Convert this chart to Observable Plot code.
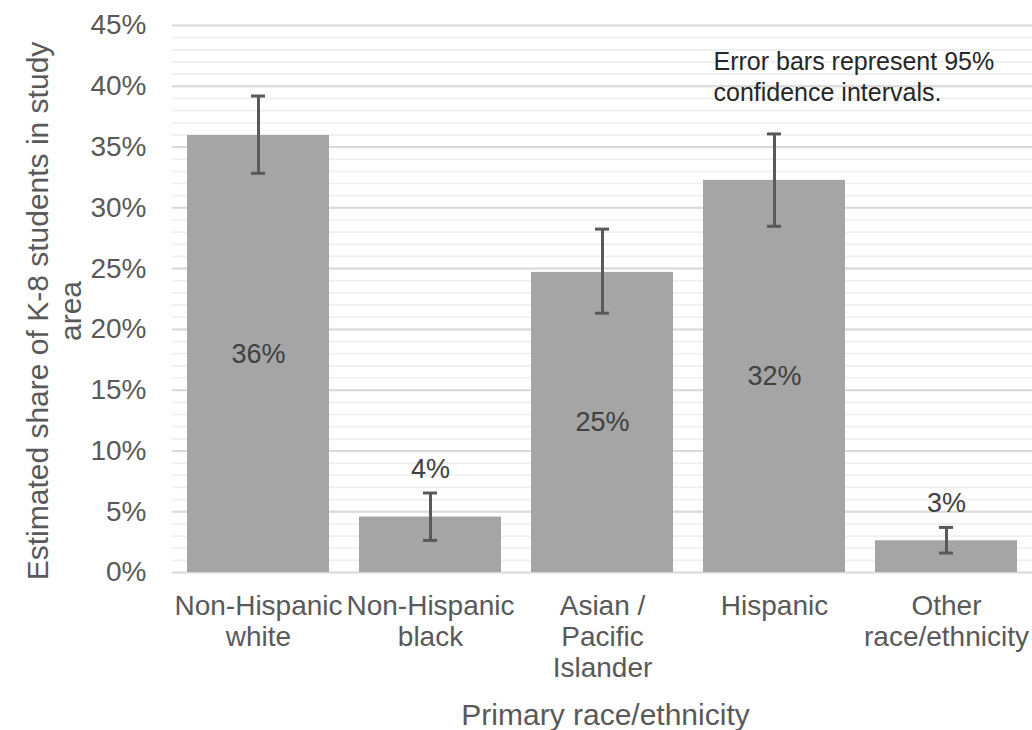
<!DOCTYPE html>
<html><head><meta charset="utf-8">
<script src="https://cdn.jsdelivr.net/npm/d3@7"></script>
<script src="https://cdn.jsdelivr.net/npm/@observablehq/plot@0.6"></script>
<style>body{margin:0;background:#fff}#chart svg{display:block}</style>
</head><body><div id="chart"></div>
<script>
const categories = ["Non-Hispanic white", "Non-Hispanic black", "Asian / Pacific Islander", "Hispanic", "Other race/ethnicity"];
const tickLabels = ["Non-Hispanic\nwhite", "Non-Hispanic\nblack", "Asian /\nPacific\nIslander", "Hispanic", "Other\nrace/ethnicity"];
const shares = [35.95, 4.56, 24.69, 32.26, 2.61];
const ciLow = [32.84, 2.64, 21.33, 28.48, 1.60];
const ciHigh = [39.20, 6.54, 28.25, 36.08, 3.71];
const valueLabels = ["36%", "4%", "25%", "32%", "3%"];
const majorTicks = [0, 5, 10, 15, 20, 25, 30, 35, 40, 45];
const minorTicks = d3.range(0, 46, 1);
const xTitle = "Primary race/ethnicity";
const yTitle = "Estimated share of K-8 students in study\narea";
const note = "Error bars represent 95%\nconfidence intervals.";

const rows = categories.map((c, i) => ({category: c, share: shares[i], lo: ciLow[i], hi: ciHigh[i], label: valueLabels[i], tick: tickLabels[i]}));
const inside = rows.filter(d => d.share >= 10);
const outside = rows.filter(d => d.share < 10);
const ink = "#595959";

const chart = Plot.plot({
  width: 1032, height: 730,
  marginLeft: 172, marginRight: 0, marginTop: 25, marginBottom: 158,
  style: {fontFamily: "'Liberation Sans', Arial, Helvetica, sans-serif", background: "#fff", overflow: "visible"},
  x: {domain: categories, paddingInner: 0.174, paddingOuter: 0.087, axis: null},
  y: {domain: [0, 45], axis: null},
  marks: [
    Plot.ruleY(minorTicks, {stroke: "#efefef", strokeWidth: 1.7}),
    Plot.ruleY(majorTicks, {stroke: "#d9d9d9", strokeWidth: 2}),
    Plot.barY(rows, {x: "category", y: "share", fill: "#a5a5a5"}),
    Plot.ruleX(rows, {x: "category", y1: "lo", y2: "hi", stroke: ink, strokeWidth: 3}),
    Plot.tickY(rows, {x: "category", y: "hi", stroke: ink, strokeWidth: 3, insetLeft: 64, insetRight: 64}),
    Plot.tickY(rows, {x: "category", y: "lo", stroke: ink, strokeWidth: 3, insetLeft: 64, insetRight: 64}),
    Plot.text(inside, {x: "category", y: d => d.share / 2, text: "label", fontSize: 27, fill: "#404040"}),
    Plot.text(outside, {x: "category", y: "hi", dy: -24, text: "label", fontSize: 27, fill: "#404040"}),
    Plot.axisY(majorTicks, {tickFormat: d => d + "%", tickSize: 0, tickPadding: 26, fontSize: 28, color: ink, label: null}),
    Plot.text(rows, {x: "category", text: "tick", frameAnchor: "bottom", lineAnchor: "top", dy: 20, fontSize: 28, lineHeight: 31 / 28, fill: ink}),
    Plot.text([xTitle], {text: d => d, frameAnchor: "bottom", lineAnchor: "top", dx: 3, dy: 131, fontSize: 30, fill: ink}),
    Plot.text([yTitle], {text: d => d, frameAnchor: "left", textAnchor: "middle", lineAnchor: "middle", rotate: -90, dx: -118.5, dy: 12, fontSize: 30, lineHeight: 1.1, fill: ink}),
    Plot.text([note], {text: d => d, frameAnchor: "top-left", textAnchor: "start", lineAnchor: "top", dx: 541, dy: 23, fontSize: 25, lineHeight: 1.23, fill: "#262626"})
  ]
});
document.getElementById("chart").appendChild(chart);
</script>
</body></html>
